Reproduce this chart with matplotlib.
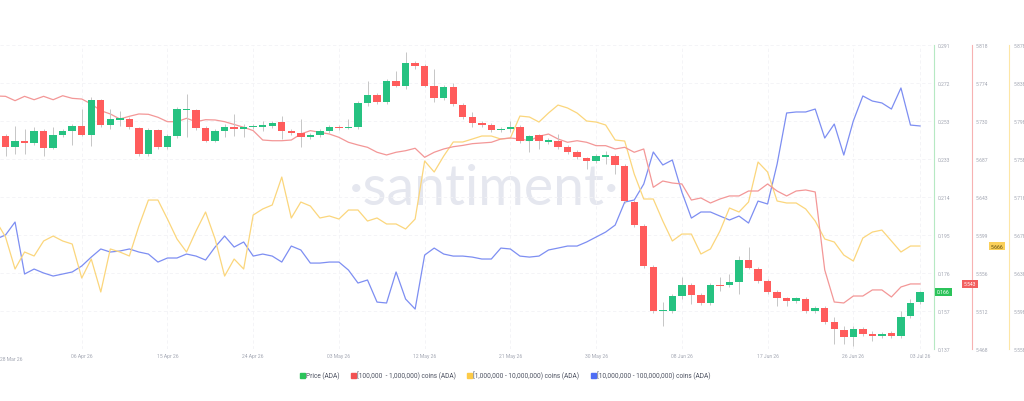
import matplotlib
matplotlib.use('Agg')
import matplotlib.pyplot as plt
import matplotlib.dates as mdates
from matplotlib.lines import Line2D
import numpy as np
import pandas as pd

plt.rcParams['font.family'] = ['Roboto', 'DejaVu Sans']

# daily data, 28 Mar 26 .. 03 Jul 26
dates = pd.date_range('2026-03-28', '2026-07-03', freq='D')

price_open = [
    .2459, .2449, .2393, .2424, .2414, .2474, .2388, .2454, .2474, .2500,
    .2454, .2631, .2505, .2530, .2535, .2490, .2358, .2479, .2393, .2449,
    .2581, .2581, .2490, .2424, .2474, .2495, .2485, .2495, .2500, .2500,
    .2520, .2474, .2464, .2444, .2454, .2474, .2495, .2490, .2495, .2616,
    .2657, .2621, .2728, .2702, .2819, .2804, .2702, .2642, .2697, .2606,
    .2545, .2515, .2505, .2479, .2485, .2495, .2424, .2454, .2419, .2424,
    .2393, .2368, .2338, .2322, .2346, .2348, .2297, .2115, .1993, .1785,
    .1563, .1563, .1639, .1694, .1644, .1603, .1694, .1694, .1709, .1821,
    .1775, .1714, .1659, .1628, .1613, .1623, .1563, .1578, .1507, .1466,
    .1431, .1471, .1446, .1436, .1451, .1436, .1537, .1608]
price_close = [
    .2449, .2393, .2424, .2414, .2474, .2388, .2454, .2474, .2500, .2454,
    .2631, .2505, .2535, .2540, .2495, .2358, .2479, .2393, .2449, .2586,
    .2586, .2490, .2424, .2474, .2495, .2485, .2495, .2500, .2502, .2515,
    .2474, .2464, .2444, .2454, .2474, .2495, .2490, .2495, .2616, .2657,
    .2621, .2728, .2702, .2819, .2804, .2702, .2642, .2697, .2611, .2545,
    .2515, .2505, .2479, .2485, .2495, .2424, .2449, .2424, .2429, .2393,
    .2368, .2343, .2322, .2348, .2348, .2302, .2120, .1998, .1790, .1563,
    .1568, .1639, .1694, .1644, .1603, .1694, .1689, .1709, .1821, .1780,
    .1714, .1659, .1628, .1613, .1628, .1563, .1578, .1507, .1471, .1431,
    .1471, .1446, .1436, .1446, .1436, .1532, .1603, .1659]
price_high = [
    .2469, .2459, .2500, .2485, .2495, .2485, .2495, .2485, .2510, .2586,
    .2647, .2637, .2586, .2576, .2545, .2495, .2490, .2485, .2459, .2596,
    .2662, .2586, .2500, .2485, .2510, .2560, .2510, .2510, .2525, .2525,
    .2550, .2485, .2535, .2464, .2485, .2505, .2505, .2535, .2626, .2728,
    .2667, .2738, .2778, .2875, .2829, .2814, .2788, .2707, .2717, .2616,
    .2571, .2525, .2515, .2495, .2525, .2505, .2454, .2459, .2439, .2459,
    .2404, .2378, .2343, .2358, .2373, .2358, .2307, .2125, .2003, .1796,
    .1608, .1649, .1735, .1704, .1654, .1704, .1735, .1750, .1841, .1887,
    .1785, .1725, .1669, .1633, .1633, .1633, .1588, .1588, .1532, .1487,
    .1487, .1482, .1461, .1456, .1461, .1563, .1623, .1664]
price_low = [
    .2434, .2348, .2358, .2358, .2404, .2348, .2383, .2444, .2404, .2449,
    .2398, .2495, .2485, .2500, .2485, .2348, .2348, .2383, .2383, .2439,
    .2444, .2479, .2419, .2419, .2444, .2449, .2444, .2485, .2474, .2490,
    .2434, .2454, .2393, .2434, .2444, .2464, .2479, .2485, .2485, .2601,
    .2611, .2611, .2697, .2687, .2788, .2697, .2621, .2631, .2601, .2535,
    .2495, .2495, .2469, .2469, .2469, .2414, .2368, .2383, .2409, .2383,
    .2358, .2333, .2282, .2312, .2307, .2257, .2110, .1988, .1780, .1552,
    .1487, .1552, .1623, .1598, .1593, .1593, .1664, .1684, .1649, .1775,
    .1704, .1649, .1588, .1588, .1603, .1552, .1552, .1497, .1395, .1395,
    .1385, .1436, .1411, .1426, .1426, .1426, .1527, .1598]

# [100,000 - 1,000,000) coins (ADA)
coins_100k_1m = [
    5.7593, 5.7589, 5.7539, 5.7589, 5.7550, 5.7589, 5.7550, 5.7596, 5.7566, 5.7558,
    5.7501, 5.7424, 5.7386, 5.7328, 5.7359, 5.7386, 5.7382, 5.7348, 5.7297, 5.7297,
    5.7336, 5.7297, 5.7320, 5.7317, 5.7297, 5.7265, 5.7233, 5.7194, 5.7086, 5.7078,
    5.7078, 5.7086, 5.7155, 5.7194, 5.7175, 5.7155, 5.7117, 5.7060, 5.7029, 5.7002,
    5.6945, 5.6914, 5.6945, 5.6963, 5.6991, 5.6887, 5.6945, 5.6983, 5.7009, 5.7024,
    5.7044, 5.7052, 5.7060, 5.7098, 5.7109, 5.7098, 5.7078, 5.7129, 5.7155, 5.7098,
    5.7060, 5.7078, 5.7060, 5.7021, 5.7021, 5.6983, 5.7002, 5.6945, 5.6983, 5.6542,
    5.6614, 5.6591, 5.6580, 5.6395, 5.6419, 5.6361, 5.6407, 5.6442, 5.6442, 5.6499,
    5.6499, 5.6580, 5.6499, 5.6442, 5.6499, 5.6511, 5.6488, 5.5590, 5.5221, 5.5210,
    5.5290, 5.5290, 5.5360, 5.5360, 5.5279, 5.5394, 5.5429, 5.5429]

# [1,000,000 - 10,000,000) coins (ADA)
coins_1m_10m = [
    5.6927, 5.6759, 5.6422, 5.6601, 5.6559, 5.6717, 5.6769, 5.6717, 5.6685, 5.6327,
    5.6527, 5.6180, 5.6633, 5.6601, 5.6559, 5.6874, 5.7148, 5.7148, 5.6948, 5.6738,
    5.6601, 5.6822, 5.7022, 5.6738, 5.6348, 5.6527, 5.6422, 5.6990, 5.7054, 5.7096,
    5.7390, 5.6959, 5.7127, 5.7085, 5.6959, 5.6980, 5.6948, 5.7043, 5.7043, 5.6927,
    5.6959, 5.6896, 5.6896, 5.6843, 5.6948, 5.7559, 5.7443, 5.7611, 5.7759, 5.7759,
    5.7790, 5.7822, 5.7822, 5.7790, 5.7801, 5.8032, 5.8022, 5.7969, 5.8064, 5.8148,
    5.8117, 5.8064, 5.7980, 5.7969, 5.7938, 5.7780, 5.7769, 5.7422, 5.7159, 5.7159,
    5.6927, 5.6717, 5.6790, 5.6790, 5.6580, 5.6633, 5.6822, 5.7064, 5.7022, 5.7127,
    5.7548, 5.7443, 5.7138, 5.7117, 5.7117, 5.7054, 5.6927, 5.6738, 5.6706, 5.6569,
    5.6506, 5.6748, 5.6811, 5.6832, 5.6717, 5.6601, 5.6664, 5.6664]

# [10,000,000 - 100,000,000) coins (ADA), axis not shown
coins_10m_100m = [
    9.0085, 9.0125, 9.0253, 8.9740, 8.9789, 8.9750, 8.9720, 8.9740, 8.9760, 8.9819,
    8.9907, 8.9987, 8.9957, 8.9967, 8.9987, 8.9957, 8.9937, 8.9858, 8.9898, 8.9898,
    8.9937, 8.9917, 8.9878, 9.0006, 9.0115, 9.0006, 9.0056, 8.9917, 8.9937, 8.9917,
    8.9858, 9.0016, 8.9977, 8.9848, 8.9848, 8.9858, 8.9858, 8.9779, 8.9651, 8.9681,
    8.9463, 8.9454, 8.9760, 8.9493, 8.9394, 8.9927, 8.9996, 8.9937, 8.9917, 8.9917,
    8.9907, 8.9888, 8.9888, 8.9996, 8.9987, 8.9917, 8.9907, 8.9917, 8.9977, 8.9996,
    9.0016, 9.0016, 9.0056, 9.0105, 9.0154, 9.0223, 9.0450, 9.0470, 9.0628, 9.0944,
    9.0816, 9.0865, 9.0549, 9.0292, 9.0352, 9.0352, 9.0312, 9.0273, 9.0312, 9.0243,
    9.0460, 9.0431, 9.0825, 9.1329, 9.1339, 9.1339, 9.1368, 9.1082, 9.1220, 9.0914,
    9.1250, 9.1497, 9.1447, 9.1428, 9.1368, 9.1576, 9.1210, 9.1201]

price_ticklabels = ['0.137', '0.157', '0.176', '0.195', '0.214',
                    '0.233', '0.253', '0.272', '0.291']
tick_dates = ['2026-04-06', '2026-04-15', '2026-04-24', '2026-05-03',
              '2026-05-12', '2026-05-21', '2026-05-30', '2026-06-08',
              '2026-06-17', '2026-06-26', '2026-07-03']

legend_labels = ['Price (ADA)', '[100,000  - 1,000,000) coins (ADA)',
                 '[1,000,000 - 10,000,000) coins (ADA)',
                 '[10,000,000 - 100,000,000) coins (ADA)']

GREEN = '#26c281'
RED = '#ff5c5c'
TICK_C = '#a3a7b3'
GRID_C = '#f3f3f6'

fig = plt.figure(figsize=(10.24, 4.02), dpi=100)
ax_b = fig.add_axes([0, 52 / 402, 934 / 1024, 304 / 402])
ax_y = ax_b.twinx()
ax_r = ax_b.twinx()
ax_p = ax_b.twinx()

x = mdates.date2num(dates)
x0 = x[0]
for a in (ax_b, ax_y, ax_r, ax_p):
    a.set_xlim(x0 + 0.42, x0 + 98.47)
    for s in a.spines.values():
        s.set_visible(False)

# blue series on hidden base axis
ax_b.set_ylim(8.90, 9.20)
ax_b.set_yticks(np.linspace(8.90, 9.20, 9))
ax_b.tick_params(axis='y', left=False, labelleft=False)
ax_b.grid(True, color=GRID_C, lw=0.6, ls=(0, (4, 3)))
ax_b.set_xticks(mdates.date2num(pd.to_datetime(tick_dates)))
ax_b.xaxis.set_major_formatter(mdates.DateFormatter('%d %b %y'))
ax_b.tick_params(axis='x', length=0, pad=3, labelsize=3.6, labelcolor=TICK_C)
ax_b.text(0.0, -0.022, '28 Mar 26', transform=ax_b.transAxes, ha='left',
          va='top', fontsize=3.6, color=TICK_C)
ax_b.text(484 / 934, 1 - (190 - 46) / 304, '\u00b7santiment\u00b7',
          transform=ax_b.transAxes, ha='center', va='center', fontsize=40,
          color='#e5e7ef', family=['Lato', 'DejaVu Sans'],
          zorder=0)
ax_b.plot(x, coins_10m_100m, color='#7d8ef2', lw=0.9, zorder=2)

# yellow
ylo, yhi = 5.558, 5.878
ax_y.set_ylim(ylo, yhi)
yt = np.linspace(ylo, yhi, 9)
ax_y.set_yticks(yt)
ax_y.set_yticklabels(['%.3f' % v for v in yt])
ax_y.spines['right'].set_visible(True)
ax_y.spines['right'].set_position(('outward', 54))
ax_y.spines['right'].set_color('#fde6a6')
ax_y.plot(x, coins_1m_10m, color='#fbd67c', lw=0.9)

# red
rlo, rhi = 5.468, 5.818
ax_r.set_ylim(rlo, rhi)
rt = np.linspace(rlo, rhi, 9)
ax_r.set_yticks(rt)
ax_r.set_yticklabels(['%.3f' % v for v in rt])
ax_r.spines['right'].set_visible(True)
ax_r.spines['right'].set_position(('outward', 27))
ax_r.spines['right'].set_color('#f7b2b2')
ax_r.plot(x, coins_100k_1m, color='#f39797', lw=0.9)

# price candles on top
ax_p.set_ylim(0.137, 0.291)
ax_p.set_yticks(np.linspace(0.137, 0.291, 9))
ax_p.set_yticklabels(price_ticklabels)
ax_p.spines['right'].set_visible(True)
ax_p.spines['right'].set_color('#b6e9c3')

o = np.array(price_open)
c = np.array(price_close)
up = c >= o
lo = np.minimum(o, c)
h = np.abs(c - o)
min_h = 0.0009
lo = np.where(h < min_h, (o + c) / 2 - min_h / 2, lo)
h = np.maximum(h, min_h)
ax_p.vlines(x, price_low, price_high, color='#c6c6c6', lw=0.7, zorder=2)
ax_p.bar(x, h, bottom=lo, width=0.78, color=np.where(up, GREEN, RED),
         lw=0, zorder=3)

for a in (ax_y, ax_r, ax_p):
    a.tick_params(axis='y', length=0, pad=3, labelsize=3.6, labelcolor=TICK_C)

# last value tags
tags = [(ax_p, price_close[-1], '%.3f', '#2bc35a', 'white', 2.2),
        (ax_r, coins_100k_1m[-1], '%.3f', '#f25f5f', 'white', 21.6),
        (ax_y, coins_1m_10m[-1], '%.3f', '#fbd05a', '#5a4a10', 41.0)]
for a, v, fmt, fc, tc, off in tags:
    a.annotate(fmt % v, xy=(1, v), xycoords=('axes fraction', 'data'),
               xytext=(off, 0), textcoords='offset points', ha='left',
               va='center', fontsize=3.6, color=tc,
               bbox=dict(boxstyle='square,pad=0.35', fc=fc, ec='none'),
               annotation_clip=False)

handles = [Line2D([], [], marker='s', ls='none', color=col, markersize=3.6)
           for col in ['#2bc35a', '#f25252', '#fdcb47', '#4f6ef5']]
fig.legend(handles, legend_labels, loc='center',
           bbox_to_anchor=(505 / 1024, 1 - 376 / 402), ncol=4, frameon=False,
           fontsize=4.7, handlelength=0.6, handletextpad=0.3,
           columnspacing=1.8, labelcolor='#4d5261')

fig.savefig('out.png', dpi=100, facecolor='white')
